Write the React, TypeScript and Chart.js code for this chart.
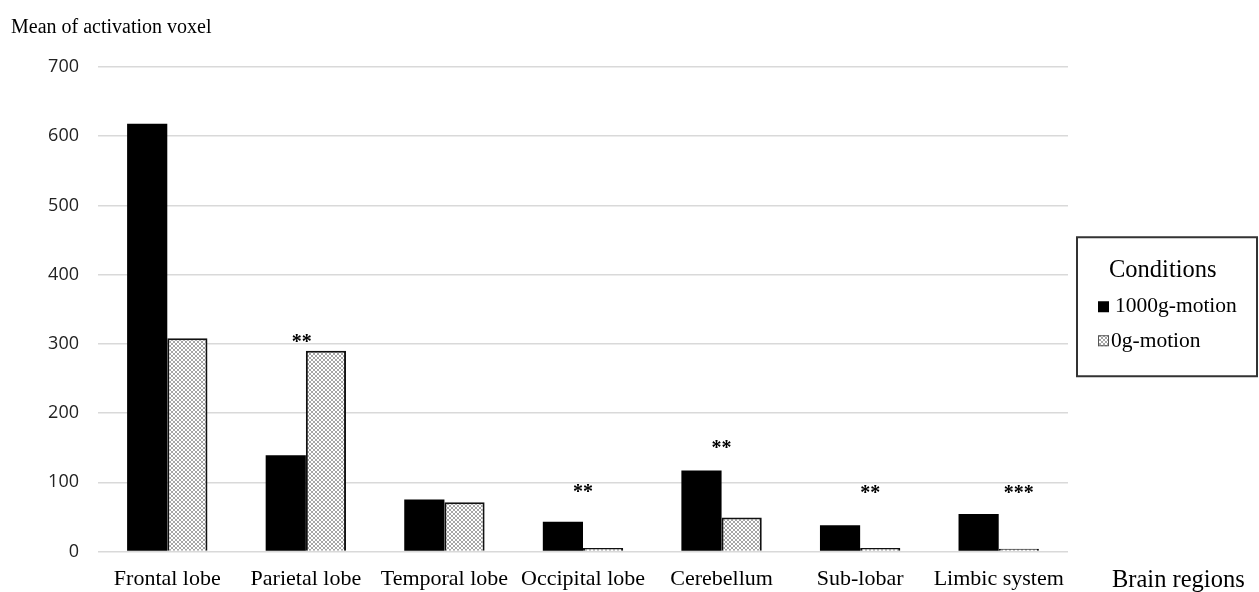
import React, { useEffect, useRef } from "react";
import { Chart, registerables } from "chart.js";

Chart.register(...registerables);

// ---- data ----
const categories = [
  "Frontal lobe",
  "Parietal lobe",
  "Temporal lobe",
  "Occipital lobe",
  "Cerebellum",
  "Sub-lobar",
  "Limbic system",
];
const seriesLabels = ["1000g-motion", "0g-motion"];
const values1000g = [618, 139, 75, 43, 117, 38, 54];
const values0g = [308, 290, 71, 5, 49, 5, 4];
const yTickValues = [0, 100, 200, 300, 400, 500, 600, 700];

// significance marks
const sigCategories = ["Parietal lobe", "Occipital lobe", "Cerebellum", "Sub-lobar", "Limbic system"];
const sigMarks = ["**", "**", "**", "**", "***"];
const sigLevels = [294, 77, 141, 76, 76];
const sigAnchor = [-0.2, 0, 0, 0.5, 1]; // 0 = group centre, 1 = over the 0g bar

const yAxisTitle = "Mean of activation voxel";
const xAxisTitle = "Brain regions";
const legendTitle = "Conditions";

const SERIF = '"Liberation Serif", "Times New Roman", serif';
const SANS = '"Open Sans", "Noto Sans", sans-serif';

function makePattern(): CanvasPattern | string {
  const c = document.createElement("canvas");
  c.width = 4;
  c.height = 4;
  const g = c.getContext("2d");
  if (!g) return "#cccccc";
  g.fillStyle = "#ffffff";
  g.fillRect(0, 0, 4, 4);
  g.fillStyle = "#a6a6a6";
  for (let i = 0; i < 4; i++) {
    g.fillRect(i, i, 1, 1);
    g.fillRect(3 - i, i, 1, 1);
  }
  const p = g.createPattern(c, "repeat");
  return p || "#cccccc";
}

export default function App() {
  const ref = useRef<HTMLCanvasElement | null>(null);

  useEffect(() => {
    document.body.style.margin = "0";
    document.body.style.overflow = "hidden";
    const canvas = ref.current;
    if (!canvas) return;
    const pattern = makePattern();

    const overlay = {
      id: "overlay",
      afterDraw(chart: any) {
        const { ctx, chartArea, scales } = chart;
        const xs = scales.x;
        const ys = scales.y;
        ctx.save();
        ctx.fillStyle = "#000";
        ctx.textAlign = "left";
        ctx.textBaseline = "alphabetic";
        ctx.font = `20px ${SERIF}`;
        ctx.fillText(yAxisTitle, 11, 33);
        ctx.font = `24.5px ${SERIF}`;
        ctx.fillText(xAxisTitle, chartArea.right + 44, 587);

        // significance marks
        const meta0g = chart.getDatasetMeta(1);
        ctx.font = `bold 20px ${SERIF}`;
        ctx.textAlign = "center";
        sigCategories.forEach((cat, i) => {
          const idx = categories.indexOf(cat);
          const cx = xs.getPixelForValue(idx);
          const bx = meta0g.data[idx].x;
          const x = cx + sigAnchor[i] * (bx - cx);
          const y = ys.getPixelForValue(sigLevels[i]);
          ctx.fillText(sigMarks[i], x, y);
        });

        // legend
        const mid = (chartArea.top + chartArea.bottom) / 2;
        const left = chartArea.right + 9;
        const top = mid - 72;
        const w = 180;
        const h = 139;
        ctx.strokeStyle = "#333";
        ctx.lineWidth = 2;
        ctx.strokeRect(left, top, w, h);
        ctx.textAlign = "left";
        ctx.fillStyle = "#000";
        ctx.font = `24.5px ${SERIF}`;
        ctx.fillText(legendTitle, left + 32, top + 40);
        ctx.font = `21.5px ${SERIF}`;
        // item 1
        ctx.fillStyle = "#000";
        ctx.fillRect(left + 21, top + 64, 11, 11);
        ctx.fillText(seriesLabels[0], left + 38, top + 75);
        // item 2
        ctx.fillStyle = pattern as any;
        ctx.fillRect(left + 21, top + 98, 11, 11);
        ctx.strokeStyle = "#555";
        ctx.lineWidth = 1;
        ctx.strokeRect(left + 21.5, top + 98.5, 10, 10);
        ctx.fillStyle = "#000";
        ctx.fillText(seriesLabels[1], left + 34, top + 110);
        ctx.restore();
      },
    };

    const chart = new Chart(canvas, {
      type: "bar",
      data: {
        labels: categories,
        datasets: [
          {
            label: seriesLabels[0],
            data: values1000g,
            backgroundColor: "#000000",
            borderWidth: 0,
            barPercentage: 1,
            categoryPercentage: 0.58,
          },
          {
            label: seriesLabels[1],
            data: values0g,
            backgroundColor: pattern as any,
            borderColor: "#111111",
            borderWidth: 2,
            barPercentage: 1,
            categoryPercentage: 0.58,
          },
        ],
      },
      options: {
        animation: false,
        responsive: false,
        maintainAspectRatio: false,
        layout: { padding: { top: 67, right: 191, bottom: 0, left: 0 } },
        plugins: {
          legend: { display: false },
          tooltip: { enabled: false },
          title: { display: false },
        },
        scales: {
          x: {
            grid: { display: false, drawTicks: false },
            border: { display: false },
            ticks: {
              color: "#000",
              font: { family: SERIF, size: 22 },
              padding: 15,
              maxRotation: 0,
              autoSkip: false,
            },
            afterFit(s: any) {
              s.height = 40.5;
            },
          },
          y: {
            min: 0,
            max: 700,
            grid: { color: "#d9d9d9", lineWidth: 1.5, drawTicks: false },
            border: { display: false },
            afterBuildTicks(s: any) {
              s.ticks = yTickValues.map((v) => ({ value: v }));
            },
            ticks: {
              color: "#222",
              font: { family: SANS, size: 18 },
              padding: 19,
            },
            afterFit(s: any) {
              s.width = 98;
            },
          },
        },
      },
      plugins: [overlay],
    });
    return () => chart.destroy();
  }, []);

  return (
    <div style={{ width: 1259, height: 592 }}>
      <canvas ref={ref} width={1259} height={592} style={{ display: "block", width: 1259, height: 592 }} />
    </div>
  );
}
